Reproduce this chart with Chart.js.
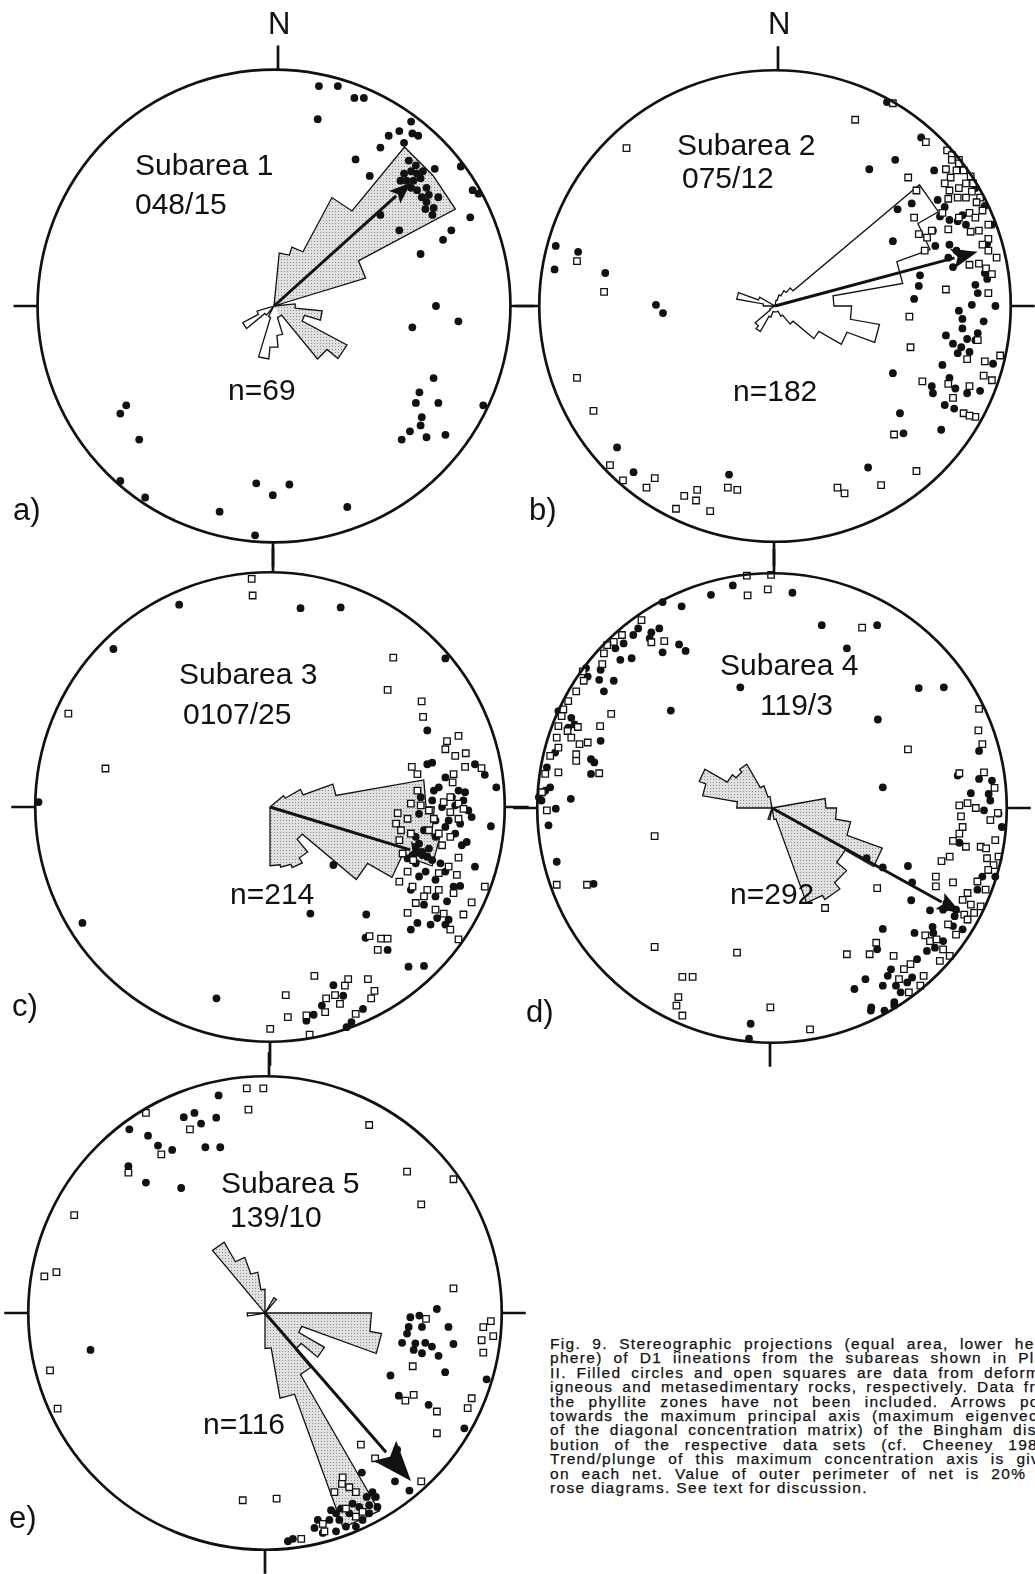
<!DOCTYPE html>
<html>
<head>
<meta charset="utf-8">
<script src="https://cdn.jsdelivr.net/npm/chart.js@4.4.0/dist/chart.umd.min.js"></script>
<style>
body { margin:0; width:1035px; height:1574px; overflow:hidden; background:#fff; position:relative;
       font-family:"Liberation Sans", Arial, Helvetica, sans-serif; color:#111; }
canvas { position:absolute; }
.txt { position:absolute; white-space:nowrap; }
.cap { position:absolute; left:550px; width:510px; font-size:15.5px; line-height:14.4px; letter-spacing:1.3px;
       white-space:nowrap; text-align:justify; text-align-last:justify; -webkit-text-stroke:0.25px #111; }
.cap.last { text-align-last:left; }
</style>
</head>
<body>
<script>
// Stereonets of D1 lineations, points as equal-area net coordinates (radius = 100)
const subareas = ['Subarea 1', 'Subarea 2', 'Subarea 3', 'Subarea 4', 'Subarea 5'];
const maxAxis = ['048/15', '075/12', '0107/25', '119/3', '139/10'];
const counts = [69, 182, 214, 292, 116];
const panels = ['a)', 'b)', 'c)', 'd)', 'e)'];
const trends = [48, 75, 107, 119, 139];
const arrowLen = [78, 89, 71, 92, 94];   // arrow length, % of net radius

// rose diagrams, percent per bin (outer perimeter = 20%)
// net a: 32 bins of 11.25 deg centred on 000; the others: 36 bins of 10 deg from 000
const roseA = [0,4.5,5.2,10.4,17.4,17.4,8.1,0, 1.8,4.1,2.7,7,5.8,1,1,2.5, 3.5,4.5,1,0,1,3,1.5,0, 0,0,0,0,0,0,0,0];
const roseB = [0,0.5,1,1.5,2,16,14,11,5,6.5, 9,6.5,4.3,2,1,0.5,0.5,0.5,0.5,0.5, 1,2.5,2.2,0.5,0,0,0,1,3.3,1.5, 0,0,0,0,0,0];
const roseC = [0,0,0,0,0,1.5,3,5.7,13.3,14, 14.7,12,9.6,3.6,5,5.5,5.2,5,0,0, 0,0,0,0,0,0,0,0,0,0, 0,0,0,0,0,0];
const roseD = [0,0,0,0,0,0,0,0,4.6,5.5, 6.8,10,7.2,8.3,9,8.6,1,0,0,1, 0,0,0,0,0,0,0,3,6,6.6, 4.4,4,4.3,2,1,0];
const roseE = [0,0,0,1.5,0,0,0,0,0,9, 10,3.3,5.8,4,6,19.3,7.3,3,0,0, 0,0,0,0,0,0,1.5,0,0,0, 0,0,6.9,5,3.5,2];

// filled circles = deformed igneous rocks, open squares = metasedimentary rocks
const igneousA = [[19,93],[27,93],[34,88],[38,88],[18.5,79],[58,78],[53,74],[48.5,72],[58.5,73],[61,72],[55,69],[45,67],[34.5,62],[40.5,55],[79,59],[84,49],[86.5,47.5],[83,37.5],[75,32],[71.5,28],[62,22],[45,38.5],[53,32],
  [55,56],[58,57],[60.5,56],[63,57],[56,53],[59,53],[62,54],[58,50],[60.5,49],[62.5,46],[64.5,44],[67.5,41.5],[69.5,46],[64,41],[67,38.5],[68,58],[65.5,47],[53.5,53],[60,59.5],[57,61.5],[64.5,50],
  [68.5,0],[78,-6.5],[58.5,-9],[67.5,-30.5],[61.5,-36.5],[60,-41],[69.5,-41],[62.5,-47],[62,-50.5],[57.5,-53],[54,-56.5],[64.5,-55.5],[72.5,-54.5],[88.5,-42],
  [-62.5,-42],[-65,-45.5],[-57,-56.5],[-65,-74],[-54.5,-81],
  [-7.5,-75],[-0.5,-80],[6.5,-75.5],[-23,-87],[31,-85],[-8,-97]];
const metaA = [];

const igneousB = [[-93,25.5],[-83.5,23],[-93.5,15.5],[-72,14],[-50.5,0.5],[-47.5,-3],[-67,-60],[-60,-70.5],[-19.5,-71.5],[39.5,-68.5],[54.5,-54],[53,-45.5],[70.5,-52.5],[50,-28.5],[59,3],[61,8.5],[61.5,13],[86,5.5],[83.5,0.5],[93.5,0],[88.5,-6.5],[78,-2],[79.5,-5.5],[86,-11.5],[72.5,-12.5],[79.5,-9.5],[85,-14.5],[75.5,-16],[79,-17.5],[81.5,-14],[82.5,-19.5],[77.5,-20],[92.5,-24.5],[71,-25],[74,-30.5],[66.5,-34],[76.5,-35],[87,-36],[67,-37],[81.5,-37],[72,-42],[76,-43.5],
  [47.5,86.5],[62,71.5],[51,62],[40,58],[67.5,57.5],[79.5,58],[85,50],[69,45],[72,42],[70,38],[74,36.5],[77.5,36],[81,34.5],[79.5,38.5],[89,42.5],[92,34.5],[90,26.5],[89,14],[90,11.5],[74,26],[77,23.5],[73.5,20.5],[79.5,22],[75.5,16.5],[68,25.5],[52,41],[58,43.5],[50,27.5],[85,9],[67,32]];
const metaB = [[-63,67],[-84,19],[-72.5,6],[-84,-30.5],[-77,-44.5],[-70,-67.5],[-64.5,-74],[-54.5,-77],[-51,-73],[-42,-86],[-38.5,-80.5],[-33.5,-82.5],[-33,-78],[-27.5,-87],[-20,-77],[-16,-78],[26.5,-77],[29.5,-79.5],[45,-76],[60,-70],[50.5,-54.5],[57,-4.5],[57.5,-17.5],[72.5,7],[90.5,5.5],[86,-14.5],[81.5,-22.5],[95.5,-21],[89,-23.5],[88.5,-29.5],[92,-31.5],[62.5,-32],[73.5,-33],[82.5,-34],[75.5,-39],[80,-45.5],[85,-47],[82.5,-46.5],
  [50,86],[34,79],[64,69.5],[56.5,54.5],
  [73,66],[75,64],[78,62],[75,62],[78,60.5],[72.5,58],[77,57.5],[80,57.5],[74.5,54.5],[72,52],[83,55],[84,52],[81,52],[74,49],[78,50],[83.5,48.5],[87,46],
  [73.5,45.5],[77.5,46],[81,46],[85.5,44],[71,39.5],[82.5,39.5],[88,40.5],[78,37.5],[85,37.5],[90.5,34.5],[73.5,32.5],[83,31.5],[86.5,32],[90.5,28.5],[88,26],[90.5,23.5],[94,20.5],[86.5,18],[89.5,16],[92,13.5],[82.5,17.5],
  [60,49],[59,37.5],[61,30.5],[66.5,32],[64.5,29],[63.5,23.5]];

const igneousC = [[-38.7,86.2],[13,84.7],[30.1,85],[-66.7,67.3],[-98.6,2.1],[74.7,63.3],[67,32.6],[67,18.2],[69.1,18.9],[87.3,18.2],[91.5,13.7],[74.7,12.6],[96.4,8.4],[69.8,7],[80.3,7],[83.1,6.3],[64.2,4.2],[69.1,2.8],[73.3,0],[78.9,0.7],[82.4,2.8],[63.5,-2.9],[70.5,-5.7],[76.1,-5.7],[81,-7.1],[65.6,-9.9],[70.5,-12.7],[83.8,-14.9],[81.7,-16.3],[94.1,-8.2],[63.5,-15.6],[67.7,-17.7],[64.9,-20.5],[69.1,-22.6],[62.1,-24],[58.6,-21.9],[72.6,-24],[66.3,-27.5],[74.7,-27.5],[63.5,-29.6],[70.5,-31],[60,-35.3],[65.6,-41.6],[70.5,-38.1],[75.4,-40.2],[81,-33.6],[78.2,-33.9],[87.3,-25.4],[62.8,-49.4],[60,-52.2],[68.4,-50.1],[74.7,-50.1],[41,-45.8],[17.2,-45.4],[40.7,-55.7],[50.1,-60.9],[59,-68],[65.6,-67.7],[27,-24.7],[-22.8,-81.5],[-79.9,-49.4],
  [27,-75.9],[31.2,-80.4],[22.1,-84.6],[18.6,-88.5],[15.5,-91],[39.6,-86],[34.7,-91.6],[32.6,-93.8],
  [62.1,-17],[64.9,-19.1],[67,-21.2],[60.7,-20.5],
  [71.9,8.4],[77.5,4.2],[84.5,-1.5],[74.7,-8.5],[78.9,-11.3],[62.1,-12.7],[85.9,-4.3],[71.2,-47.3],[76.1,-48]];
const metaC = [[-7.8,97.2],[-7.4,90.1],[-85.9,39.8],[-70.1,16.4],[52.5,63.6],[50.1,49.9],[64.6,45],[65.2,38.4],
  [75.4,28.1],[80.3,30.3],[74.7,24.6],[78.9,21.8],[83.4,22.9],[83.1,17.1],[90.1,16.6],[60.4,17.1],[62.8,14],[78.2,14],[77.8,10.5],[62.8,7],[60,1.4],[64.2,0.7],[54.4,-2.6],[58.6,-5],[53.7,-7.1],[55.8,-9.9],[67.7,-1.5],[69.8,-5],[74,2.1],[76.8,4.2],[80.3,1.4],[82.4,-0.8],[76.8,-2.2],[80.3,-5],[67.7,-9.9],[71.9,-11.3],[76.8,-12.7],[73.3,-16.3],[60,-11.3],[55.1,-14.1],[56.5,-19.8],[61,-22.6],[80.3,-21.6],[76.1,-25.4],[79.6,-28.9],[71.9,-28.2],[58.6,-27.5],[55.1,-31.8],[60.7,-33.9],[67,-35.3],[71.9,-35.3],[78.2,-36.7],[91.5,-33.9],[85.9,-40.6],[58.6,-45.1],[62.1,-40.9],[65.6,-38.1],[70.5,-43.7],[74,-45.4],[82.4,-45.8],[76.8,-52.2],[80.3,-56.4],[47.3,-56.1],[50.1,-56.1],[45.9,-60.9],[42.4,-55],
  [18.9,-71.9],[6.7,-80.1],[7.6,-89.5],[15.5,-88.8],[33.3,-73.3],[31.9,-76.1],[41.7,-73.3],[44.5,-78.3],[43.1,-81.5],[23.9,-81.5],[27.7,-80.1],[29.8,-83.9],[23.5,-87.4],[16.9,-97],[0.1,-94.5],[36.5,-88.1]];

const igneousD = [[-16.7,94.8],[-26,90.8],[8.7,91.7],[-38.5,85.9],[-46.6,87.7],[21.2,77.9],[44.8,77.9],[31.9,68],[-13.5,51.4],[-43.1,41.5],[62.5,51.1],[73.2,51.4],[45.1,37.7],[88.2,24.3],[47.2,8.8],[79.1,13.8],[88.2,12.4],[93.7,11.7],[84.7,6.3],[92.3,6],[93,3.2],[90.3,-1],[96.5,-2.4],[97.9,-8.1],[79.8,-14.8],[89.6,-29.2],[95.1,-29.2],[87.5,-34.8],[40.3,-21.4],[47.2,-25.3],[57.9,-24.7],[59.7,-31.7],[59.3,-39.3],[67.3,-43.6],[68.4,-50.6],[47.2,-51.5],[60.7,-53.2],[44.8,-60.2],[39.8,-72.9],[35.1,-77.1],[42.1,-86.3],[47.9,-86.3],[52.1,-82.7],[49.3,-71.5],[52.8,-75.7],[59.7,-72.2],[61.8,-64.4],[66,-60.9],[72.9,-56.7],[77.1,-50.3],[81.2,-51.7],[77.8,-46.1],[75.7,-41.9],[78.4,-43.3],[72.9,-43.3],[-9.1,-91.9],[-9.8,-98.2],[-91.7,-22.9],[-76,-32.3],[-85.7,3.9],[-92.1,-0.3],[-95.2,-7.4],[-99.3,4.6],[-96.6,7.4],[-94.5,8.8],[-98.2,3.2],
  [-51.4,74.8],[-48,76.5],[-59.1,73.7],[-63.2,70.1],[-59.8,63.8],[-64.6,63.1],[-67.4,54.2],[-71.6,49.7],[-73.6,54.6],[-78.5,56],[-85.5,38.4],[-84.1,35.6],[-73,28.6],[-77.1,20.8],[-75.7,19.4],[-86.8,34.2],[-92.4,23.6],[-95.9,17.3],[-77.1,14.5],[-39.6,69.7],[-46.6,66.3],[-36.8,66.9],[-52.1,72.2],[-57,76.5],[-66.7,68],[-73,58.9],[-79.2,59.6],[-91,41.3],
  [50.7,-68.7],[54.8,-78.5],[47.2,-75.7],[69.4,-59.5],[74.3,-40.5],[68.7,-53.2],[57.6,-74.3],[42.3,-84.9],[52.1,-84.1]];
const metaD = [[-10.7,99],[-0.4,99.3],[-10.4,90.6],[-1.8,93.1],[38.4,76.8],[88.2,42.2],[87.9,33.1],[89.6,27.2],[57.9,25],[-50,-12],[-91.7,-32.7],[-78.8,-32.7],[-50,-59.2],[-14.9,-61.6],[-38.2,-71.9],[-33.8,-71.9],[-39.9,-80.6],[-40.7,-84.2],[-38.2,-88.4],[-0.7,-84.9],[16.2,-94.3],[22.6,-42.6],[44.8,-34.1],[31.9,-62.3],[41.6,-62.3],[44.4,-57.4],[51.8,-63],
  [69.8,-29.2],[69.8,-33.4],[77.1,-31.7],[72.2,-22.6],[75.7,-20.7],[77.1,-14],[79.8,-10.9],[82.6,-16.5],[88.9,-16.5],[91.2,-17.2],[95.1,-13.7],[96.5,-20.7],[91.6,-21.4],[94.4,-24.3],[92.1,-26.4],[87.5,-31.3],[91,-34.8],[83.3,-36.2],[81.2,-39.1],[84.7,-41.2],[88.9,-41.9],[86.1,-44.7],[81.9,-45.4],[75,-49.6],[83.3,-47.5],[65.3,-54.3],[67.3,-56.7],[70.1,-56],[78.4,-53.9],[72.9,-60.2],[75.7,-63],[71.5,-65.1],[59,-66.5],[56.2,-68.6],[54.1,-72.9],[64.6,-71.5],[63.2,-75.7],[58.3,-78.5],
  [79.8,14.8],[90.3,15.2],[94.8,8.6],[79.8,1.1],[83.3,2.1],[86.8,0],[93,-5.2],[96.2,-2.1],[80.5,-3.6],[81.2,-8.1],
  [-55.6,80],[-63.9,73.7],[-67.4,70.8],[-70.2,69.4],[-71.6,65.9],[-72.3,61.3],[-80.6,58.2],[-80.2,54.2],[-83.4,49.7],[-86.8,45.5],[-88.9,42],[-89.6,39.1],[-91,34.9],[-87.1,32.8],[-82.7,34.5],[-91.7,30],[-85.5,30],[-82,27.2],[-78.5,27.9],[-91,25.7],[-83.4,22.9],[-83.4,20.1],[-94.5,22.2],[-91,15.2],[-96.6,14.5],[-73.6,14.8],[-68.5,40.1],[-73.2,34.9],[-51.4,70.6],[-45.9,71.1],[-95.9,-1],[-98,6.7]];

const igneousE = [[-19.6,91.9],[-29.8,84.5],[-34.3,82.7],[-27,80],[-20.6,82.5],[-57.3,77.6],[-49.4,74.9],[-45.2,70.7],[-39.2,68.9],[-25.2,70],[-18.9,70],[-57.7,62],[-50.3,55.1],[-35.4,52.8],[-73.7,-15.6],
  [72.6,1.7],[65.2,-1.1],[61.4,-1.8],[60.7,-5.9],[66.3,-5.9],[77.5,-5.9],[60,-8.7],[57.9,-12.6],[63.5,-12.8],[67.7,-12.6],[70.5,-14.2],[66.3,-17],[73.3,-18.1],[79.6,-13.1],[62.8,-15.6],[53,-26.4],[76.1,-25],[56.5,-34.9],[69.1,-38.8],[84.2,-48.7],[93.6,-28],
  [55.8,-57.7],[40.9,-67.4],[54.9,-71.1],[61,-75],[45.4,-75.7],[42.9,-77.7],[44,-81.2],[47.5,-81.9],[32.1,-82.6],[27.9,-83.3],[37,-80.5],[39.8,-81.9],[35.6,-84.6],[31.4,-87.4],[34.2,-90.2],[22.3,-87.4],[20.9,-90.8],[24.4,-92.9],[30,-92.2],[11.8,-95.4],[9.7,-96.4],[44,-84.6],
  [30,-84.6],[38.4,-90.2],[27.2,-87.4],[46.8,-77.7],[41.2,-87.4]];
const metaE = [[-7.7,94.9],[-0.7,94.9],[-7,85.9],[44,79.4],[-31.7,77.6],[-43.8,67],[-57.7,59.3],[60,59.7],[79.6,56.5],[66,45.9],[-80.6,41.3],[-93.2,15.5],[-88.1,17.3],[79.6,10.4],[-90.8,-24.2],[-87.6,-40.4],[68,-2.5],[62.4,-22.5],[59.3,-37],[62.8,-34.6],[72.6,-41.6],[72.6,-50.8],[85.6,-40.2],[87.3,-36],[92.2,-6],[95.4,-3.4],[96.4,-9.8],[91.5,-11.5],[92.2,-16.7],[40.5,-55.6],[46.5,-61.4],[66,-71.1],[-9.4,-79.1],[4.9,-78.4],[32.8,-69.4],[32.5,-72.2],[29.3,-75.7],[35.6,-73.6],[38.4,-75.7],[34.2,-82.6],[38.4,-86],[41.2,-84],[24.4,-89.1],[25.1,-92.2],[15.3,-95.4],[-50.3,84.5]];

// layout of the five nets on the page (pixels); topDx / botDx shift the N and S ticks
const layout = [
  { cx: 274, cy: 306, R: 240, start: -5.625, white: [14, 31], head: 22, topDx: 4, botDx: -1 },
  { cx: 775, cy: 306, R: 241, start: 0, white: [0, 35], head: 26, topDx: 3, botDx: -1 },
  { cx: 270, cy: 807, R: 240, start: 0, white: null, head: 22, topDx: 3, botDx: 0 },
  { cx: 772, cy: 808, R: 240, start: 0, white: [17, 25], head: 24, topDx: 2, botDx: -2 },
  { cx: 265, cy: 1313, R: 242, start: 0, white: [25, 27], head: 40, topDx: 4, botDx: 0 }
];
const roses = [roseA, roseB, roseC, roseD, roseE];
const igneous = [igneousA, igneousB, igneousC, igneousD, igneousE];
const meta = [metaA, metaB, metaC, metaD, metaE];

function stippleTile() {
  const c = document.createElement('canvas');
  c.width = 3; c.height = 3;
  const g = c.getContext('2d');
  g.fillStyle = '#e1e1e1'; g.fillRect(0, 0, 3, 3);
  g.fillStyle = '#8e8e8e'; g.fillRect(1, 1, 1, 1);
  return c;
}
const tile = stippleTile();

function polar(az, r) {
  const a = az * Math.PI / 180;
  return [r * Math.sin(a), r * Math.cos(a)];
}

function netPlugin(i) {
  const L = layout[i];
  return {
    id: 'net' + i,
    beforeDatasetsDraw(chart) {
      const ctx = chart.ctx, sx = chart.scales.x, sy = chart.scales.y;
      const P = (p) => [sx.getPixelForValue(p[0]), sy.getPixelForValue(p[1])];
      const bins = roses[i];
      const w = 360 / bins.length;
      const c0 = P([0, 0]);
      const wedge = (k) => {
        const r = bins[k] * 5;
        return [P(polar(L.start + k * w, r)), P(polar(L.start + (k + 1) * w, r))];
      };
      const outline = () => {
        ctx.beginPath();
        ctx.moveTo(c0[0], c0[1]);
        for (let k = 0; k < bins.length; k++) {
          if (bins[k] > 0) {
            const e = wedge(k);
            ctx.lineTo(e[0][0], e[0][1]);
            ctx.lineTo(e[1][0], e[1][1]);
          } else {
            ctx.lineTo(c0[0], c0[1]);
          }
        }
        ctx.closePath();
      };
      ctx.save();
      outline();
      ctx.fillStyle = ctx.createPattern(tile, 'repeat');
      ctx.fill();
      // unshaded petals
      if (L.white) {
        ctx.fillStyle = '#fff';
        ctx.strokeStyle = '#fff';
        ctx.lineWidth = 0.8;
        for (let k = L.white[0]; k <= L.white[1]; k++) {
          if (!(bins[k] > 0)) continue;
          const e = wedge(k);
          ctx.beginPath();
          ctx.moveTo(c0[0], c0[1]);
          ctx.lineTo(e[0][0], e[0][1]);
          ctx.lineTo(e[1][0], e[1][1]);
          ctx.closePath();
          ctx.fill();
          ctx.stroke();
        }
      }
      outline();
      ctx.strokeStyle = '#111';
      ctx.lineWidth = 1.3;
      ctx.stroke();
      ctx.restore();
    },
    afterDatasetsDraw(chart) {
      const ctx = chart.ctx, sx = chart.scales.x, sy = chart.scales.y;
      const P = (p) => [sx.getPixelForValue(p[0]), sy.getPixelForValue(p[1])];
      const c0 = P([0, 0]);
      const rad = sx.getPixelForValue(100) - c0[0];
      ctx.save();
      // arrow towards the maximum principal axis
      const tip = P(polar(trends[i], arrowLen[i]));
      const dx = tip[0] - c0[0], dy = tip[1] - c0[1];
      const len = Math.hypot(dx, dy), ux = dx / len, uy = dy / len;
      const hl = L.head, hw = hl * 0.38;
      const bx = tip[0] - ux * hl, by = tip[1] - uy * hl;
      ctx.strokeStyle = '#111';
      ctx.fillStyle = '#111';
      ctx.lineWidth = 3;
      ctx.beginPath();
      ctx.moveTo(c0[0], c0[1]);
      ctx.lineTo(bx + ux * 2, by + uy * 2);
      ctx.stroke();
      ctx.beginPath();
      ctx.moveTo(tip[0], tip[1]);
      ctx.lineTo(bx - uy * hw, by + ux * hw);
      ctx.lineTo(bx + ux * hl * 0.2, by + uy * hl * 0.2);
      ctx.lineTo(bx + uy * hw, by - ux * hw);
      ctx.closePath();
      ctx.fill();
      // primitive circle and N-E-S-W ticks
      ctx.lineWidth = 2.7;
      ctx.beginPath();
      ctx.arc(c0[0], c0[1], rad, 0, Math.PI * 2);
      ctx.stroke();
      const t = 24;
      ctx.beginPath();
      ctx.moveTo(c0[0] + L.topDx, c0[1] - rad); ctx.lineTo(c0[0] + L.topDx, c0[1] - rad - t);
      ctx.moveTo(c0[0] + L.botDx, c0[1] + rad); ctx.lineTo(c0[0] + L.botDx, c0[1] + rad + t);
      ctx.moveTo(c0[0] - rad, c0[1]); ctx.lineTo(c0[0] - rad - t, c0[1]);
      ctx.moveTo(c0[0] + rad, c0[1]); ctx.lineTo(c0[0] + rad + t, c0[1]);
      ctx.stroke();
      ctx.restore();
    }
  };
}

function addText(txt, left, baseline, size) {
  const d = document.createElement('div');
  d.className = 'txt';
  d.textContent = txt;
  d.style.left = left + 'px';
  d.style.top = (baseline - 0.8465 * size) + 'px';
  d.style.fontSize = size + 'px';
  d.style.lineHeight = size + 'px';
  document.body.appendChild(d);
}

const pad = 30;
layout.forEach((L, i) => {
  const size = 2 * (L.R + pad);
  const lim = 100 * (L.R + pad) / L.R;
  const cv = document.createElement('canvas');
  cv.width = size; cv.height = size;
  cv.style.left = (L.cx - size / 2) + 'px';
  cv.style.top = (L.cy - size / 2) + 'px';
  document.body.appendChild(cv);
  new Chart(cv.getContext('2d'), {
    type: 'scatter',
    data: {
      datasets: [{
        label: 'metasedimentary rocks',
        data: meta[i].map(p => ({ x: p[0], y: p[1] })),
        pointStyle: 'rect',
        pointRadius: 4.6,
        backgroundColor: '#fff',
        borderColor: '#111',
        borderWidth: 1.3
      }, {
        label: 'igneous rocks',
        data: igneous[i].map(p => ({ x: p[0], y: p[1] })),
        pointStyle: 'circle',
        pointRadius: 3.9,
        backgroundColor: '#111',
        borderColor: '#111',
        borderWidth: 0
      }]
    },
    options: {
      responsive: false,
      animation: false,
      events: [],
      layout: { padding: 0 },
      plugins: { legend: { display: false }, tooltip: { enabled: false } },
      scales: {
        x: { type: 'linear', min: -lim, max: lim, display: false },
        y: { type: 'linear', min: -lim, max: lim, display: false }
      }
    },
    plugins: [netPlugin(i)]
  });
});

// labels
addText('N', 268, 34, 31);
addText('N', 768, 34, 31);
const subPos = [[135, 175, 135, 214, 228, 400], [677, 155.5, 682, 188, 733, 401], [179, 684, 183, 724, 230, 904],
                [720, 675, 760, 715, 730, 904], [221, 1193, 230, 1227, 203, 1434]];
subPos.forEach((p, i) => {
  addText(subareas[i], p[0], p[1], 30);
  addText(maxAxis[i], p[2], p[3], 30);
  addText('n=' + counts[i], p[4], p[5], 30);
});
const panelPos = [[13, 520], [529, 520], [12, 1016], [526, 1022], [9, 1528]];
panelPos.forEach((p, i) => addText(panels[i], p[0], p[1], 31));

const caption = [
  'Fig. 9. Stereographic projections (equal area, lower hemi-',
  'phere) of D1 iineations from the subareas shown in Plate',
  'II. Filled circles and open squares are data from deformed',
  'igneous and metasedimentary rocks, respectively. Data from',
  'the phyllite zones have not been included. Arrows point',
  'towards the maximum principal axis (maximum eigenvector',
  'of the diagonal concentration matrix) of the Bingham distri-',
  'bution of the respective data sets (cf. Cheeney 1983).',
  'Trend/plunge of this maximum concentration axis is given',
  'on each net. Value of outer perimeter of net is 20% for',
  'rose diagrams. See text for discussion.'
];
caption.forEach((line, k) => {
  const d = document.createElement('div');
  d.className = 'cap' + (k === caption.length - 1 ? ' last' : '');
  d.style.top = (1337 + k * 14.4) + 'px';
  d.textContent = line;
  document.body.appendChild(d);
});
</script>
</body>
</html>
